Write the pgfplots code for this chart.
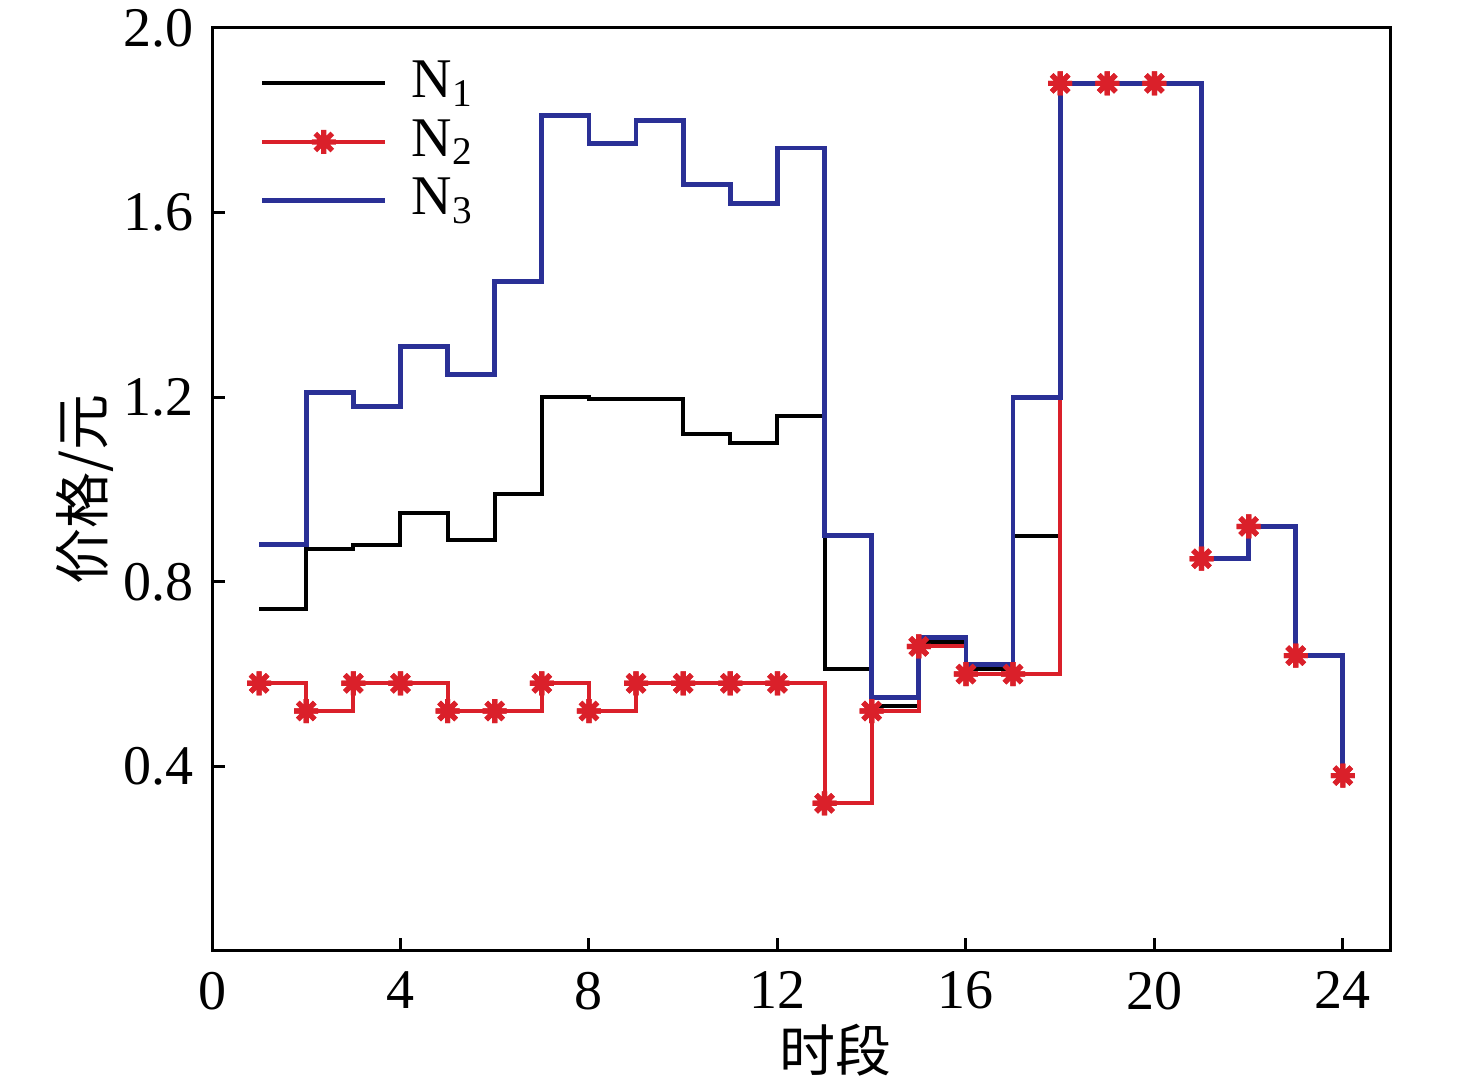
\documentclass[border=0pt]{standalone}
\usepackage{pgfplots}
\pgfplotsset{compat=1.18}
\usepackage{pgfplotstable}
\usepackage{fontspec}
\setmainfont{Liberation Serif}
\newfontfamily\cjk{Noto Sans CJK SC}
\definecolor{nred}{RGB}{218,32,42}
\definecolor{nblue}{RGB}{42,48,150}

\pgfdeclareplotmark{ast8}{%
 \pgfpathmoveto{\pgfqpoint{-\pgfplotmarksize}{0pt}}\pgfpathlineto{\pgfqpoint{\pgfplotmarksize}{0pt}}%
 \pgfpathmoveto{\pgfqpoint{0pt}{-\pgfplotmarksize}}\pgfpathlineto{\pgfqpoint{0pt}{\pgfplotmarksize}}%
 \pgfpathmoveto{\pgfqpoint{-0.707\pgfplotmarksize}{-0.707\pgfplotmarksize}}\pgfpathlineto{\pgfqpoint{0.707\pgfplotmarksize}{0.707\pgfplotmarksize}}%
 \pgfpathmoveto{\pgfqpoint{-0.707\pgfplotmarksize}{0.707\pgfplotmarksize}}\pgfpathlineto{\pgfqpoint{0.707\pgfplotmarksize}{-0.707\pgfplotmarksize}}%
 \pgfusepathqstroke}

\pgfplotstableread{
x N1 N2 N3
1 0.74 0.58 0.88
2 0.87 0.52 1.21
3 0.88 0.58 1.18
4 0.95 0.58 1.31
5 0.89 0.52 1.25
6 0.99 0.52 1.45
7 1.20 0.58 1.81
8 1.195 0.52 1.75
9 1.195 0.58 1.80
10 1.12 0.58 1.66
11 1.10 0.58 1.62
12 1.16 0.58 1.74
13 0.61 0.32 0.90
14 0.53 0.52 0.55
15 0.67 0.66 0.68
16 0.61 0.60 0.62
17 0.90 0.60 1.20
18 1.88 1.88 1.88
19 1.88 1.88 1.88
20 1.88 1.88 1.88
21 0.85 0.85 0.85
22 0.92 0.92 0.92
23 0.64 0.64 0.64
24 0.38 0.38 0.38
}\data

\begin{document}
\fontsize{14pt}{16pt}\selectfont
\begin{tikzpicture}
\begin{axis}[
 scale only axis, width=294.5pt, height=230.75pt,
 xmin=0, xmax=25, ymin=0, ymax=2,
 xtick={0,4,...,24}, ytick={0.4,0.8,1.2,1.6,2.0},
 yticklabel style={/pgf/number format/fixed,/pgf/number format/fixed zerofill,/pgf/number format/precision=1, inner sep=1pt, xshift=-3.5pt},
 xticklabel style={inner sep=1pt, yshift=-4pt},
 /pgf/number format/assume math mode=true,
 tick align=inside, xtick pos=bottom, ytick pos=left, major tick length=3.25pt,
 axis line style={line width=0.75pt},
 every tick/.style={black, line width=0.75pt},
 xlabel={\cjk 时段}, ylabel={\cjk 价格/元},
 xlabel style={at={(axis description cs:0.529,-0.107)}, anchor=center, inner sep=0pt},
 ylabel style={at={(axis description cs:-0.108,0.5)}, anchor=center, inner sep=0pt},
 legend style={at={(axis description cs:0,1)}, anchor=north west, xshift=8.75pt, yshift=-4pt,
   draw=none, fill=none, row sep=-0.6pt, legend cell align=left,
   /tikz/every odd column/.append style={column sep=4pt}},
 legend image code/.code={\draw[mark repeat=2,mark phase=2,#1] plot coordinates {(0pt,0pt) (15.4pt,0pt) (30.8pt,0pt)};},
]
\addplot[const plot, black, line width=1pt] table[x=x,y=N1]{\data};
\addlegendentry{N\textsubscript{1}}
\addplot[const plot, nred, line width=1pt, mark=ast8, mark size=3pt, mark options={line width=1.3pt, solid}] table[x=x,y=N2]{\data};
\addlegendentry{N\textsubscript{2}}
\addplot[const plot, nblue, line width=1.2pt] table[x=x,y=N3]{\data};
\addlegendentry{N\textsubscript{3}}
\addplot[forget plot, only marks, nred, mark=ast8, mark size=3pt, mark options={line width=1.3pt}] table[x=x,y=N2]{\data};
\end{axis}
\path ([shift={(-53pt,-34.5pt)}]current axis.south west) rectangle ([shift={(21.5pt,7pt)}]current axis.north east);
\end{tikzpicture}
\end{document}
